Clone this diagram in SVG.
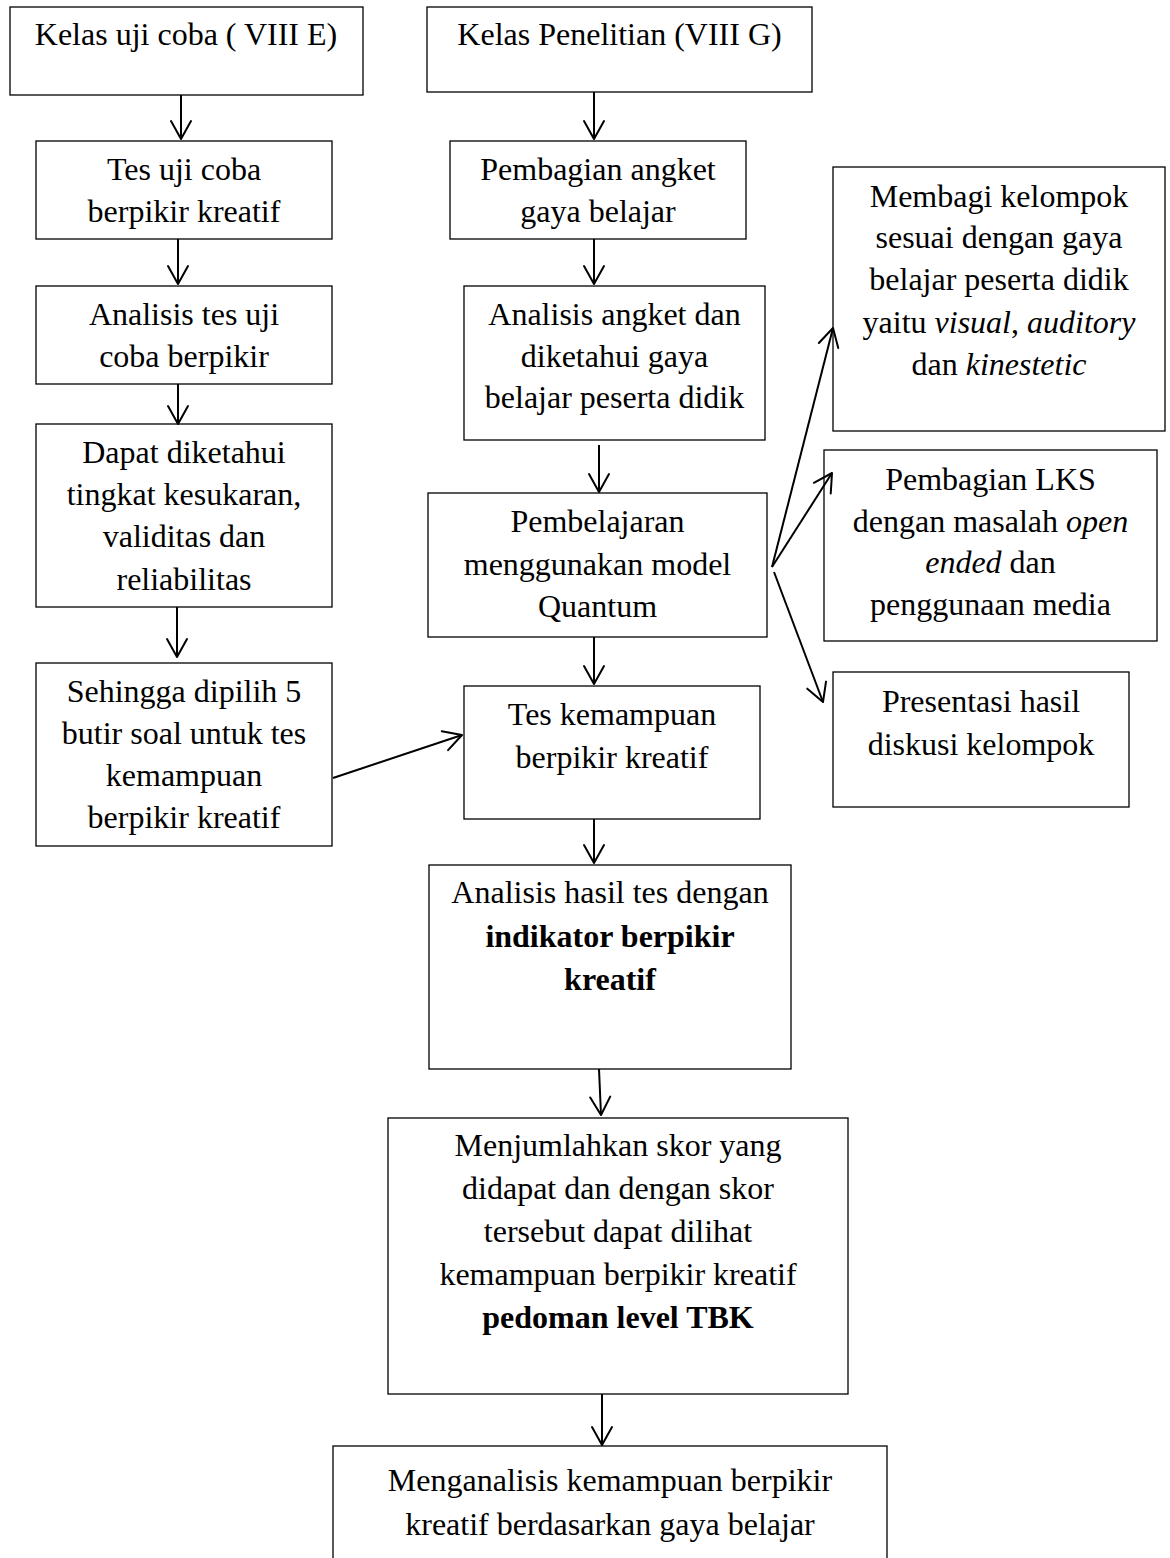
<svg xmlns="http://www.w3.org/2000/svg" width="1170" height="1558" viewBox="0 0 1170 1558">
<style>
.box{fill:#fff;stroke:#000;stroke-width:1.3}
text{font-family:"Liberation Serif","Times New Roman",serif;font-size:32px;fill:#000;text-anchor:middle}
.b{font-weight:bold}
.i{font-style:italic}
.c{stroke:#000;stroke-width:2;fill:none;marker-end:url(#ah)}
</style>
<defs>
<marker id="ah" markerUnits="userSpaceOnUse" markerWidth="26" markerHeight="26" viewBox="-22 -13 26 26" refX="0" refY="0" orient="auto" overflow="visible">
<path d="M-18,-10 L0,0 L-18,10" fill="none" stroke="#000" stroke-width="2" stroke-linejoin="round" stroke-linecap="round"/>
</marker>
</defs>
<rect width="1170" height="1558" fill="#fff"/>

<g id="n-kelas-uji"><rect class="box" x="10" y="7" width="353" height="88"/><text x="186" y="45">Kelas uji coba ( VIII E)</text></g>
<g id="n-tes-uji"><rect class="box" x="36" y="141" width="296" height="98"/><text x="184" y="180">Tes uji coba</text><text x="184" y="222">berpikir kreatif</text></g>
<g id="n-analisis-uji"><rect class="box" x="36" y="286" width="296" height="98"/><text x="184" y="325">Analisis tes uji</text><text x="184" y="367">coba berpikir</text></g>
<g id="n-dapat"><rect class="box" x="36" y="424" width="296" height="183"/><text x="184" y="463">Dapat diketahui</text><text x="184" y="505">tingkat kesukaran,</text><text x="184" y="547">validitas dan</text><text x="184" y="590">reliabilitas</text></g>
<g id="n-sehingga"><rect class="box" x="36" y="663" width="296" height="183"/><text x="184" y="702">Sehingga dipilih 5</text><text x="184" y="744">butir soal untuk tes</text><text x="184" y="786">kemampuan</text><text x="184" y="828">berpikir kreatif</text></g>

<g id="n-kelas-penelitian"><rect class="box" x="427" y="7" width="385" height="85"/><text x="619.5" y="45">Kelas Penelitian (VIII G)</text></g>
<g id="n-pembagian-angket"><rect class="box" x="450" y="141" width="296" height="98"/><text x="598" y="180">Pembagian angket</text><text x="598" y="222">gaya belajar</text></g>
<g id="n-analisis-angket"><rect class="box" x="464" y="286" width="301" height="154"/><text x="614.5" y="325">Analisis angket dan</text><text x="614.5" y="367">diketahui gaya</text><text x="614.5" y="408">belajar peserta didik</text></g>
<g id="n-pembelajaran"><rect class="box" x="428" y="493" width="339" height="144"/><text x="597.5" y="532">Pembelajaran</text><text x="597.5" y="575">menggunakan model</text><text x="597.5" y="617">Quantum</text></g>
<g id="n-tes-kemampuan"><rect class="box" x="464" y="686" width="296" height="133"/><text x="612" y="725">Tes kemampuan</text><text x="612" y="768">berpikir kreatif</text></g>
<g id="n-analisis-hasil"><rect class="box" x="429" y="865" width="362" height="204"/><text x="610" y="903">Analisis hasil tes dengan</text><text x="610" y="947" class="b">indikator berpikir</text><text x="610" y="990" class="b">kreatif</text></g>
<g id="n-menjumlahkan"><rect class="box" x="388" y="1118" width="460" height="276"/><text x="618" y="1156">Menjumlahkan skor yang</text><text x="618" y="1199">didapat dan dengan skor</text><text x="618" y="1242">tersebut dapat dilihat</text><text x="618" y="1285">kemampuan berpikir kreatif</text><text x="618" y="1328" class="b">pedoman level TBK</text></g>
<g id="n-menganalisis"><rect class="box" x="333" y="1446" width="554" height="130"/><text x="610" y="1491">Menganalisis kemampuan berpikir</text><text x="610" y="1535">kreatif berdasarkan gaya belajar</text></g>

<g id="n-membagi"><rect class="box" x="833" y="167" width="332" height="264"/><text x="999" y="207">Membagi kelompok</text><text x="999" y="248">sesuai dengan gaya</text><text x="999" y="290">belajar peserta didik</text><text x="999" y="333">yaitu <tspan class="i">visual</tspan>, <tspan class="i">auditory</tspan></text><text x="999" y="375">dan <tspan class="i">kinestetic</tspan></text></g>
<g id="n-lks"><rect class="box" x="824" y="450" width="333" height="191"/><text x="990.5" y="490">Pembagian LKS</text><text x="990.5" y="532">dengan masalah <tspan class="i">open</tspan></text><text x="990.5" y="573"><tspan class="i">ended</tspan> dan</text><text x="990.5" y="615">penggunaan media</text></g>
<g id="n-presentasi"><rect class="box" x="833" y="672" width="296" height="135"/><text x="981" y="712">Presentasi hasil</text><text x="981" y="755">diskusi kelompok</text></g>

<g id="connectors">
<line class="c" x1="181" y1="95" x2="181" y2="139"/>
<line class="c" x1="178" y1="239" x2="178" y2="284"/>
<line class="c" x1="178" y1="384" x2="178" y2="424"/>
<line class="c" x1="177" y1="607" x2="177" y2="657"/>
<line class="c" x1="594" y1="92" x2="594" y2="139"/>
<line class="c" x1="594" y1="239" x2="594" y2="284"/>
<line class="c" x1="599" y1="445" x2="599" y2="492"/>
<line class="c" x1="594" y1="637" x2="594" y2="684"/>
<line class="c" x1="594" y1="819" x2="594" y2="863"/>
<line class="c" x1="599" y1="1069" x2="601" y2="1115"/>
<line class="c" x1="602" y1="1394" x2="602" y2="1445"/>
<line class="c" x1="333" y1="778" x2="462" y2="735"/>
<line class="c" x1="772" y1="567" x2="833" y2="328"/>
<line class="c" x1="772" y1="567" x2="832" y2="473"/>
<line class="c" x1="774" y1="572" x2="823" y2="702"/>
</g>
</svg>
